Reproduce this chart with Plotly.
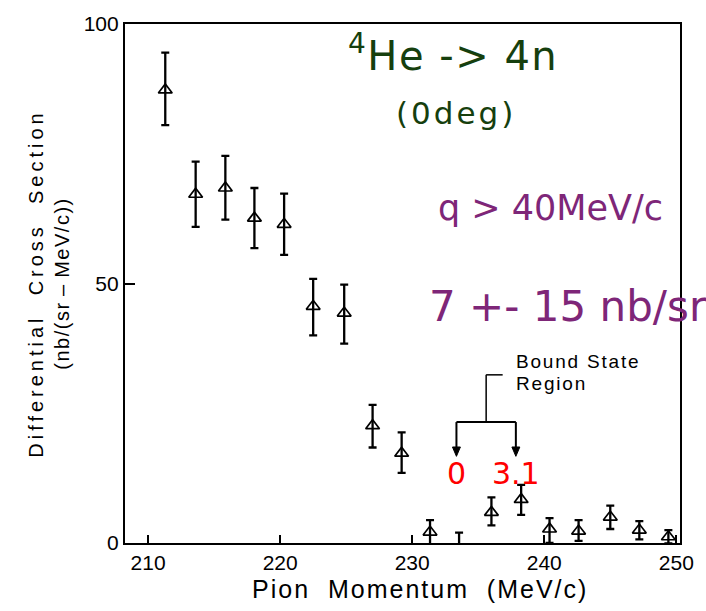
import plotly.graph_objects as go

# Pion momentum (MeV/c) and differential cross section nb/(sr-MeV/c)
momentum = [211.3, 213.6, 215.85, 218.05, 220.3, 222.5, 224.85, 227.0, 229.2,
            231.35, 233.55, 236.0, 238.25, 240.4, 242.6, 245.0, 247.2, 249.4]
cross_section = [87.3, 67.2, 68.4, 62.6, 61.4, 45.6, 44.3, 22.6, 17.3,
                 2.1, -1.5, 5.9, 8.4, 2.7, 2.3, 5.0, 2.5, 1.2]
err_plus = [7.2, 6.3, 6.2, 5.8, 5.9, 5.3, 5.5, 4.0, 4.0,
            2.3, 3.5, 2.9, 2.8, 2.1, 2.1, 2.2, 1.7, 1.3]
err_minus = [6.8, 6.3, 6.1, 5.8, 5.9, 5.6, 5.9, 4.2, 3.8,
             2.3, 3.5, 2.5, 3.0, 2.7, 1.9, 2.3, 1.8, 1.3]

x_ticks = [210, 220, 230, 240, 250]
y_ticks = [0, 50, 100]

# Bound-state region markers (binding energy labels, MeV)
bound_x = [233.35, 237.85]
bound_labels = ["0", "3.1"]

W, H = 706, 611
M_L, M_R, M_T, M_B = 125, 22, 15, 68
PW, PH = W - M_L - M_R, H - M_T - M_B


def px(xp):
    """Horizontal pixel position -> paper fraction."""
    return (xp - M_L) / PW


def py(yp):
    """Vertical pixel position -> paper fraction."""
    return (H - M_B - yp) / PH


def spaced(text, sp):
    return f'<span style="letter-spacing:{sp}px">{text}</span>'


fig = go.Figure()

fig.add_trace(go.Scatter(
    x=momentum, y=cross_section, mode="markers",
    marker=dict(symbol="triangle-up-open", size=12, color="black",
                line=dict(width=1.7, color="black")),
    error_y=dict(type="data", symmetric=False, array=err_plus,
                 arrayminus=err_minus, color="black", thickness=2.3, width=4),
    showlegend=False, cliponaxis=True,
))

sans = "Liberation Sans, Arial, sans-serif"
axis_font = dict(family=sans, size=21, color="black")

fig.update_xaxes(
    range=[208.25, 250.28], tickvals=x_ticks, ticks="inside", ticklen=8,
    tickwidth=1.5, tickcolor="black", showgrid=False, zeroline=False,
    showline=True, linecolor="black", linewidth=2.2, mirror=True,
    tickfont=axis_font,
)
fig.update_yaxes(
    range=[0, 100], tickvals=y_ticks, ticks="inside", ticklen=10,
    tickwidth=1.5, tickcolor="black", showgrid=False, zeroline=False,
    showline=True, linecolor="black", linewidth=2.2, mirror=True,
    tickfont=axis_font,
    title=dict(text=spaced("Differential  Cross  Section", 4) + "<br>"
               + spaced("(nb/(sr\u2009\u2013\u2009MeV/c))", 1.5),
               font=dict(family=sans, size=20, color="black"), standoff=9),
)

hand_font = "DejaVu Sans, sans-serif"
green = "#163f0e"
purple = "#7e2678"

annotations = [
    # x-axis title
    dict(x=px(422), y=py(590), text=spaced("Pion  Momentum  (MeV/c)", 2),
         font=dict(family=sans, size=25, color="black")),
    # reaction / cut labels
    dict(x=px(455), y=py(44), text=spaced("<sup>4</sup>He -&gt; 4n", 1.5),
         font=dict(family=hand_font, size=40, color=green)),
    dict(x=px(458), y=py(106), text=spaced("(0deg)", 3),
         font=dict(family=hand_font, size=31, color=green)),
    dict(x=px(554), y=py(202), text="q &gt; 40MeV/c",
         font=dict(family=hand_font, size=35, color=purple)),
    dict(x=px(571), y=py(302), text="7 +- 15 nb/sr",
         font=dict(family=hand_font, size=42, color=purple)),
    # bound state caption
    dict(x=237.7, y=35.0, xref="x", yref="y", xanchor="left",
         text=spaced("Bound State", 1.8), font=dict(family=sans, size=19, color="black")),
    dict(x=237.7, y=30.8, xref="x", yref="y", xanchor="left",
         text=spaced("Region", 1.8), font=dict(family=sans, size=19, color="black")),
]

# Red binding-energy labels under the bracket arrows
for bx, lab in zip(bound_x, bound_labels):
    annotations.append(dict(
        x=bx, y=13.4, xref="x", yref="y", text=lab,
        font=dict(family=hand_font, size=30, color="#ff0000")))

for a in annotations:
    a.setdefault("showarrow", False)
    a.setdefault("xref", "paper")
    a.setdefault("yref", "paper")
    a.setdefault("xanchor", "center")
    a.setdefault("yanchor", "middle")

# Bracket joining the two arrows, with the stem leading to the caption
bracket_y, stem_top, tip_y, head_len, head_half = 23.3, 32.4, 16.7, 1.8, 0.3
mid_x = (bound_x[0] + bound_x[1]) / 2
shapes = [
    dict(type="line", xref="x", yref="y", x0=bound_x[0], x1=bound_x[1],
         y0=bracket_y, y1=bracket_y, line=dict(color="black", width=2)),
    dict(type="line", xref="x", yref="y", x0=mid_x, x1=mid_x,
         y0=bracket_y, y1=stem_top, line=dict(color="black", width=1.5)),
    dict(type="line", xref="x", yref="y", x0=mid_x, x1=mid_x + 1.25,
         y0=stem_top, y1=stem_top, line=dict(color="black", width=1.5)),
]
for bx in bound_x:
    shapes.append(dict(type="line", xref="x", yref="y", x0=bx, x1=bx,
                       y0=bracket_y, y1=tip_y + head_len,
                       line=dict(color="black", width=2)))
    shapes.append(dict(
        type="path", xref="x", yref="y",
        path=(f"M {bx - head_half} {tip_y + head_len} L {bx + head_half} "
              f"{tip_y + head_len} L {bx} {tip_y} Z"),
        fillcolor="black", line=dict(color="black", width=1)))

fig.update_layout(
    width=W, height=H,
    margin=dict(l=M_L, r=M_R, t=M_T, b=M_B),
    paper_bgcolor="white", plot_bgcolor="white",
    annotations=annotations, shapes=shapes,
)

fig.write_html("out.html")
